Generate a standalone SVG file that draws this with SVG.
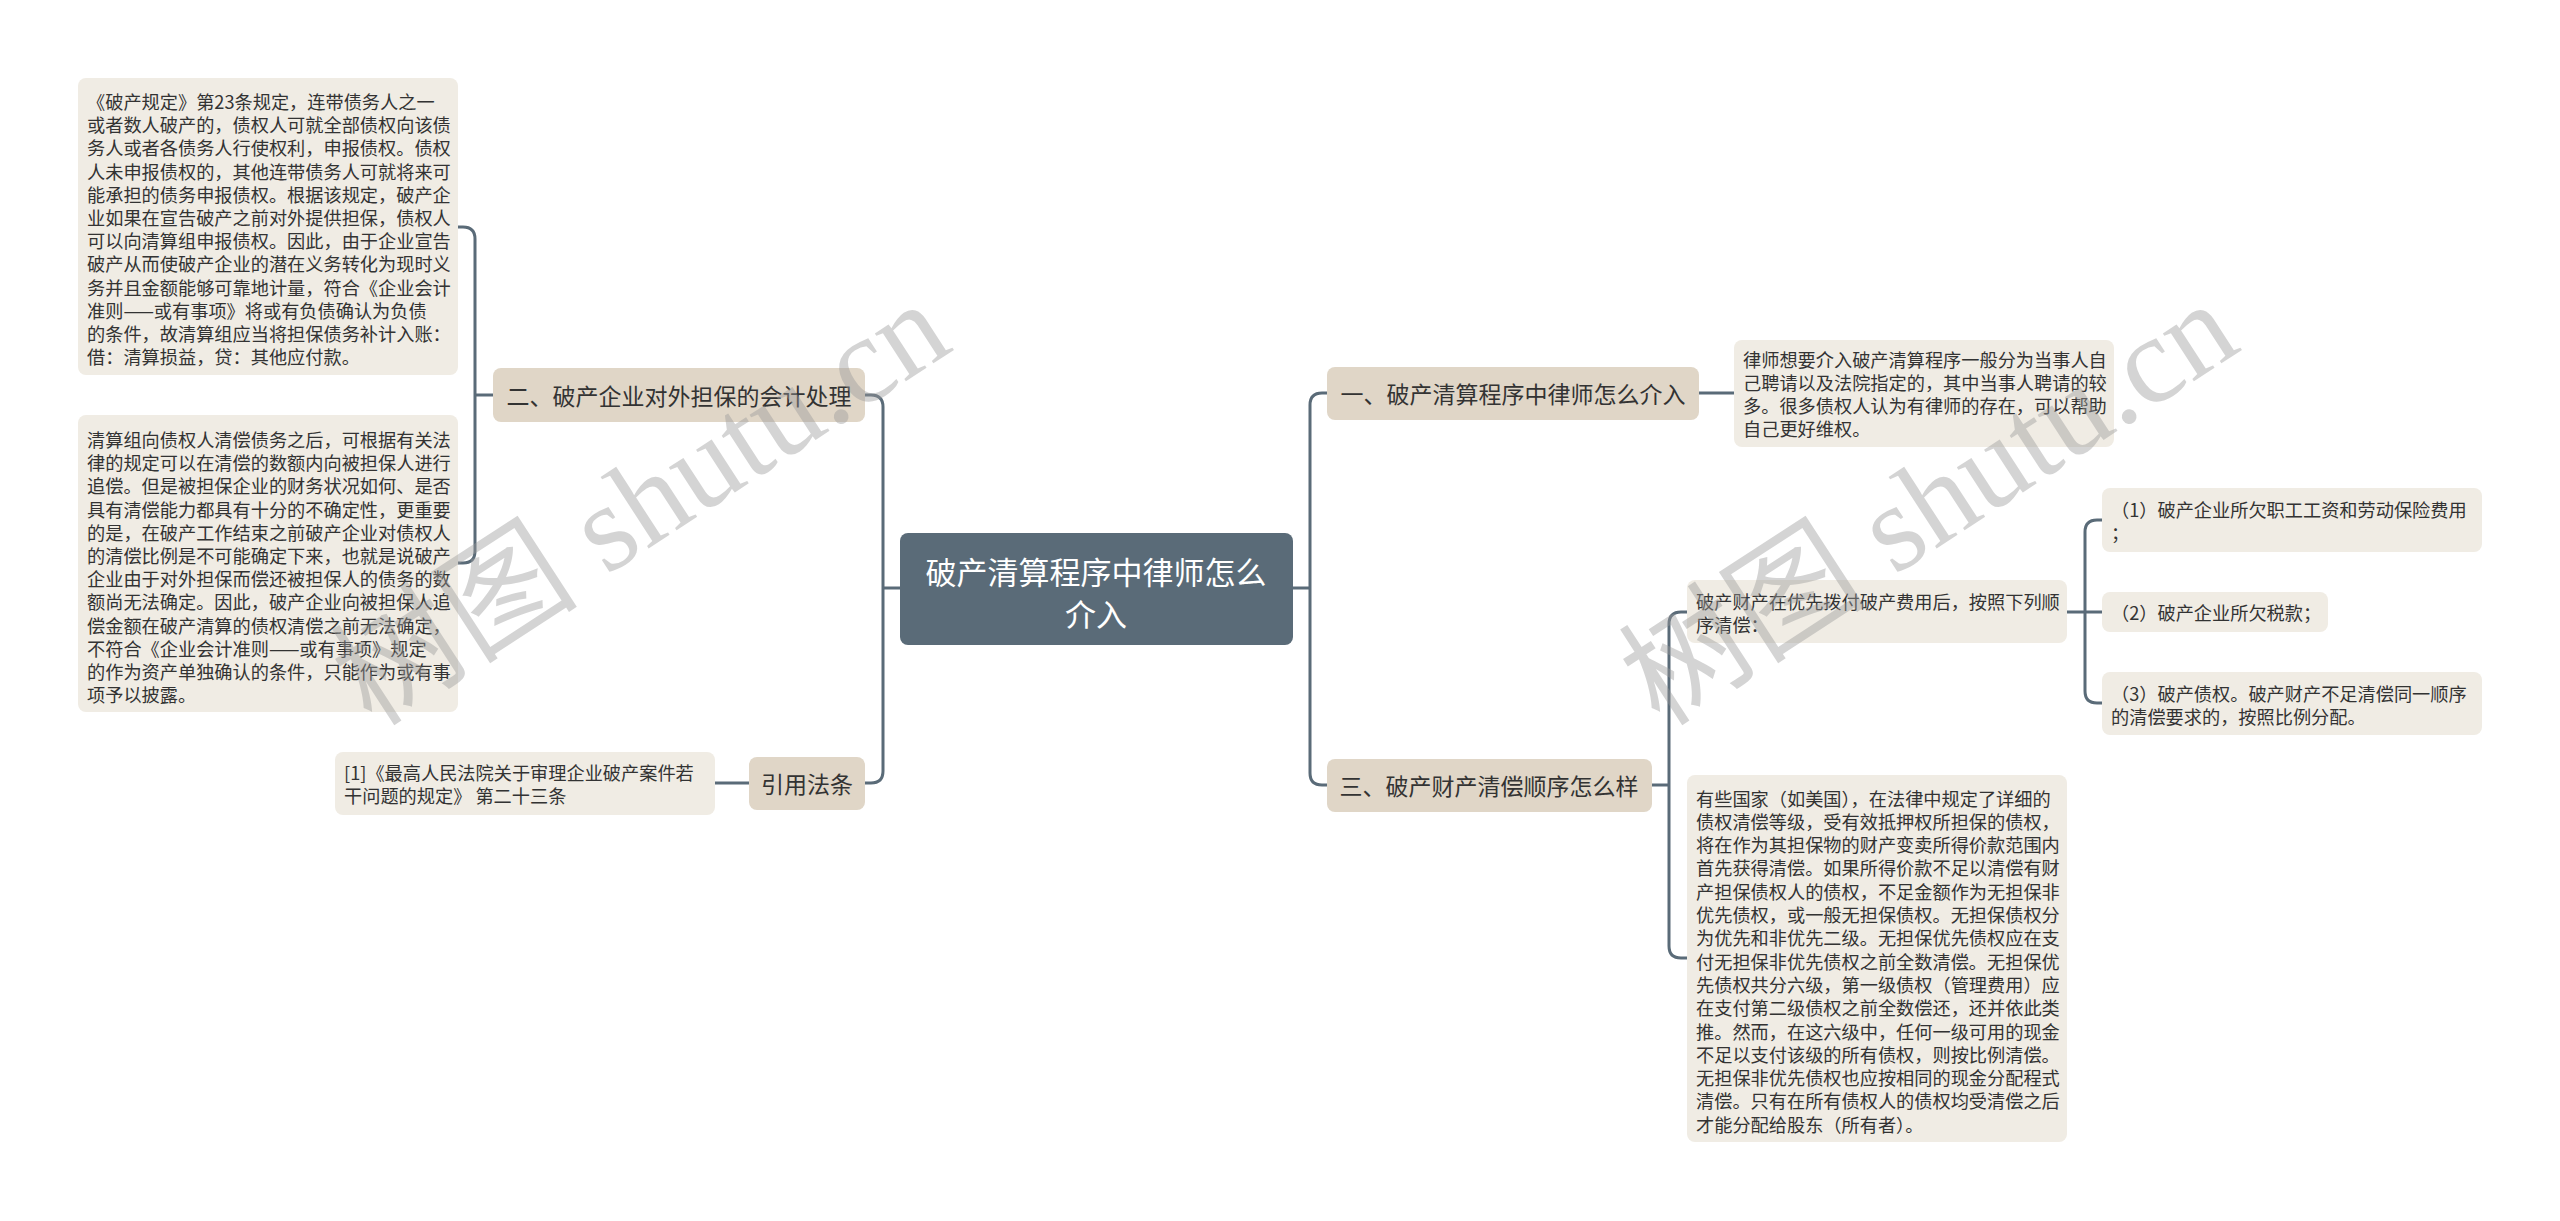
<svg xmlns="http://www.w3.org/2000/svg" width="2560" height="1221" viewBox="0 0 2560 1221">
<style>
.leaf{fill:#f0ece4}
.branch{fill:#e0d6c7}
.root{fill:#5a6b78}
.lt{font-family:"Noto Sans CJK SC","Microsoft YaHei",sans-serif;font-size:18.2px;fill:#333333;dominant-baseline:central}
.bt{font-family:"Noto Sans CJK SC","Microsoft YaHei",sans-serif;font-size:23px;fill:#333333;dominant-baseline:central;text-anchor:middle}
.rt{font-family:"Noto Sans CJK SC","Microsoft YaHei",sans-serif;font-size:31px;fill:#ffffff;dominant-baseline:central;text-anchor:middle}
.conn{fill:none;stroke:#5a6b78;stroke-width:3}
.wm{font-family:"Liberation Serif","Noto Sans CJK SC",serif;font-size:124px;fill:#9a9a9a;opacity:0.42}
</style>
<rect width="2560" height="1221" fill="#ffffff"/>
<g id="connectors">
<path class="conn" d="M900,588 H883"/>
<path class="conn" d="M865,395 H871 Q883,395 883,407 V771 Q883,783 871,783 H865"/>
<path class="conn" d="M493,395 H475"/>
<path class="conn" d="M458,227 H463 Q475,227 475,239 V551 Q475,563 463,563 H458"/>
<path class="conn" d="M749,783 H715"/>
<path class="conn" d="M1293,588 H1310"/>
<path class="conn" d="M1327,393 H1322 Q1310,393 1310,405 V773 Q1310,785 1322,785 H1327"/>
<path class="conn" d="M1699,393 H1734"/>
<path class="conn" d="M1652,785 H1669"/>
<path class="conn" d="M1687,612 H1681 Q1669,612 1669,624 V946 Q1669,958 1681,958 H1687"/>
<path class="conn" d="M2067,612 H2102"/>
<path class="conn" d="M2102,520 H2097 Q2085,520 2085,532 V691 Q2085,703 2097,703 H2102"/>
</g>
<g id="root">
<rect class="root" x="900" y="533" width="393" height="112" rx="8"/>
<text class="rt" x="1096" y="570">破产清算程序中律师怎么</text>
<text class="rt" x="1096" y="612">介入</text>
</g>
<g id="branch2">
<rect class="branch" x="493" y="368" width="372" height="54" rx="8"/>
<text class="bt" x="679" y="395">二、破产企业对外担保的会计处理</text>
</g>
<g id="leaf2a">
<rect class="leaf" x="78" y="78" width="380" height="297" rx="8"/>
<text class="lt" x="87">
<tspan x="87" y="101">《破产规定》第23条规定，连带债务人之一</tspan>
<tspan x="87" y="124.2">或者数人破产的，债权人可就全部债权向该债</tspan>
<tspan x="87" y="147.4">务人或者各债务人行使权利，申报债权。债权</tspan>
<tspan x="87" y="170.6">人未申报债权的，其他连带债务人可就将来可</tspan>
<tspan x="87" y="193.8">能承担的债务申报债权。根据该规定，破产企</tspan>
<tspan x="87" y="217">业如果在宣告破产之前对外提供担保，债权人</tspan>
<tspan x="87" y="240.2">可以向清算组申报债权。因此，由于企业宣告</tspan>
<tspan x="87" y="263.4">破产从而使破产企业的潜在义务转化为现时义</tspan>
<tspan x="87" y="286.6">务并且金额能够可靠地计量，符合《企业会计</tspan>
<tspan x="87" y="309.8">准则——或有事项》将或有负债确认为负债</tspan>
<tspan x="87" y="333">的条件，故清算组应当将担保债务补计入账：</tspan>
<tspan x="87" y="356.2">借：清算损益，贷：其他应付款。</tspan>
</text>
</g>
<g id="leaf2b">
<rect class="leaf" x="78" y="415" width="380" height="297" rx="8"/>
<text class="lt" x="87">
<tspan x="87" y="439">清算组向债权人清偿债务之后，可根据有关法</tspan>
<tspan x="87" y="462.2">律的规定可以在清偿的数额内向被担保人进行</tspan>
<tspan x="87" y="485.4">追偿。但是被担保企业的财务状况如何、是否</tspan>
<tspan x="87" y="508.6">具有清偿能力都具有十分的不确定性，更重要</tspan>
<tspan x="87" y="531.8">的是，在破产工作结束之前破产企业对债权人</tspan>
<tspan x="87" y="555">的清偿比例是不可能确定下来，也就是说破产</tspan>
<tspan x="87" y="578.2">企业由于对外担保而偿还被担保人的债务的数</tspan>
<tspan x="87" y="601.4">额尚无法确定。因此，破产企业向被担保人追</tspan>
<tspan x="87" y="624.6">偿金额在破产清算的债权清偿之前无法确定，</tspan>
<tspan x="87" y="647.8">不符合《企业会计准则——或有事项》规定</tspan>
<tspan x="87" y="671">的作为资产单独确认的条件，只能作为或有事</tspan>
<tspan x="87" y="694.2">项予以披露。</tspan>
</text>
</g>
<g id="branchcite">
<rect class="branch" x="749" y="757" width="116" height="53" rx="8"/>
<text class="bt" x="807" y="783">引用法条</text>
</g>
<g id="leafcite">
<rect class="leaf" x="335" y="752" width="380" height="63" rx="8"/>
<text class="lt" x="344">
<tspan x="344" y="772">[1]《最高人民法院关于审理企业破产案件若</tspan>
<tspan x="344" y="795">干问题的规定》 第二十三条</tspan>
</text>
</g>
<g id="branch1">
<rect class="branch" x="1327" y="367" width="372" height="53" rx="8"/>
<text class="bt" x="1513" y="393">一、破产清算程序中律师怎么介入</text>
</g>
<g id="leaf1">
<rect class="leaf" x="1734" y="340" width="380" height="107" rx="8"/>
<text class="lt" x="1743">
<tspan x="1743" y="359">律师想要介入破产清算程序一般分为当事人自</tspan>
<tspan x="1743" y="382">己聘请以及法院指定的，其中当事人聘请的较</tspan>
<tspan x="1743" y="405">多。很多债权人认为有律师的存在，可以帮助</tspan>
<tspan x="1743" y="428">自己更好维权。</tspan>
</text>
</g>
<g id="branch3">
<rect class="branch" x="1327" y="759" width="325" height="53" rx="8"/>
<text class="bt" x="1489" y="785">三、破产财产清偿顺序怎么样</text>
</g>
<g id="leaf3a">
<rect class="leaf" x="1687" y="580" width="380" height="63" rx="8"/>
<text class="lt" x="1696">
<tspan x="1696" y="601">破产财产在优先拨付破产费用后，按照下列顺</tspan>
<tspan x="1696" y="624">序清偿：</tspan>
</text>
</g>
<g id="leaf3a1">
<rect class="leaf" x="2102" y="488" width="380" height="64" rx="8"/>
<text class="lt" x="2111">
<tspan x="2111" y="509">（1）破产企业所欠职工工资和劳动保险费用</tspan>
<tspan x="2111" y="532">；</tspan>
</text>
</g>
<g id="leaf3a2">
<rect class="leaf" x="2102" y="592" width="226" height="40" rx="8"/>
<text class="lt" x="2111" y="612">（2）破产企业所欠税款；</text>
</g>
<g id="leaf3a3">
<rect class="leaf" x="2102" y="672" width="380" height="63" rx="8"/>
<text class="lt" x="2111">
<tspan x="2111" y="693">（3）破产债权。破产财产不足清偿同一顺序</tspan>
<tspan x="2111" y="716">的清偿要求的，按照比例分配。</tspan>
</text>
</g>
<g id="leaf3b">
<rect class="leaf" x="1687" y="775" width="380" height="367" rx="8"/>
<text class="lt" x="1696">
<tspan x="1696" y="797.5">有些国家（如美国），在法律中规定了详细的</tspan>
<tspan x="1696" y="820.8">债权清偿等级，受有效抵押权所担保的债权，</tspan>
<tspan x="1696" y="844.1">将在作为其担保物的财产变卖所得价款范围内</tspan>
<tspan x="1696" y="867.4">首先获得清偿。如果所得价款不足以清偿有财</tspan>
<tspan x="1696" y="890.7">产担保债权人的债权，不足金额作为无担保非</tspan>
<tspan x="1696" y="914">优先债权，或一般无担保债权。无担保债权分</tspan>
<tspan x="1696" y="937.3">为优先和非优先二级。无担保优先债权应在支</tspan>
<tspan x="1696" y="960.6">付无担保非优先债权之前全数清偿。无担保优</tspan>
<tspan x="1696" y="983.9">先债权共分六级，第一级债权（管理费用）应</tspan>
<tspan x="1696" y="1007.2">在支付第二级债权之前全数偿还，还并依此类</tspan>
<tspan x="1696" y="1030.5">推。然而，在这六级中，任何一级可用的现金</tspan>
<tspan x="1696" y="1053.8">不足以支付该级的所有债权，则按比例清偿。</tspan>
<tspan x="1696" y="1077.1">无担保非优先债权也应按相同的现金分配程式</tspan>
<tspan x="1696" y="1100.4">清偿。只有在所有债权人的债权均受清偿之后</tspan>
<tspan x="1696" y="1123.7">才能分配给股东（所有者）。</tspan>
</text>
</g>
<g id="watermarks">
<text class="wm" transform="translate(372,728) rotate(-33)">树图 shutu.cn</text>
<text class="wm" transform="translate(1660,728) rotate(-33)">树图 shutu.cn</text>
</g>
</svg>
